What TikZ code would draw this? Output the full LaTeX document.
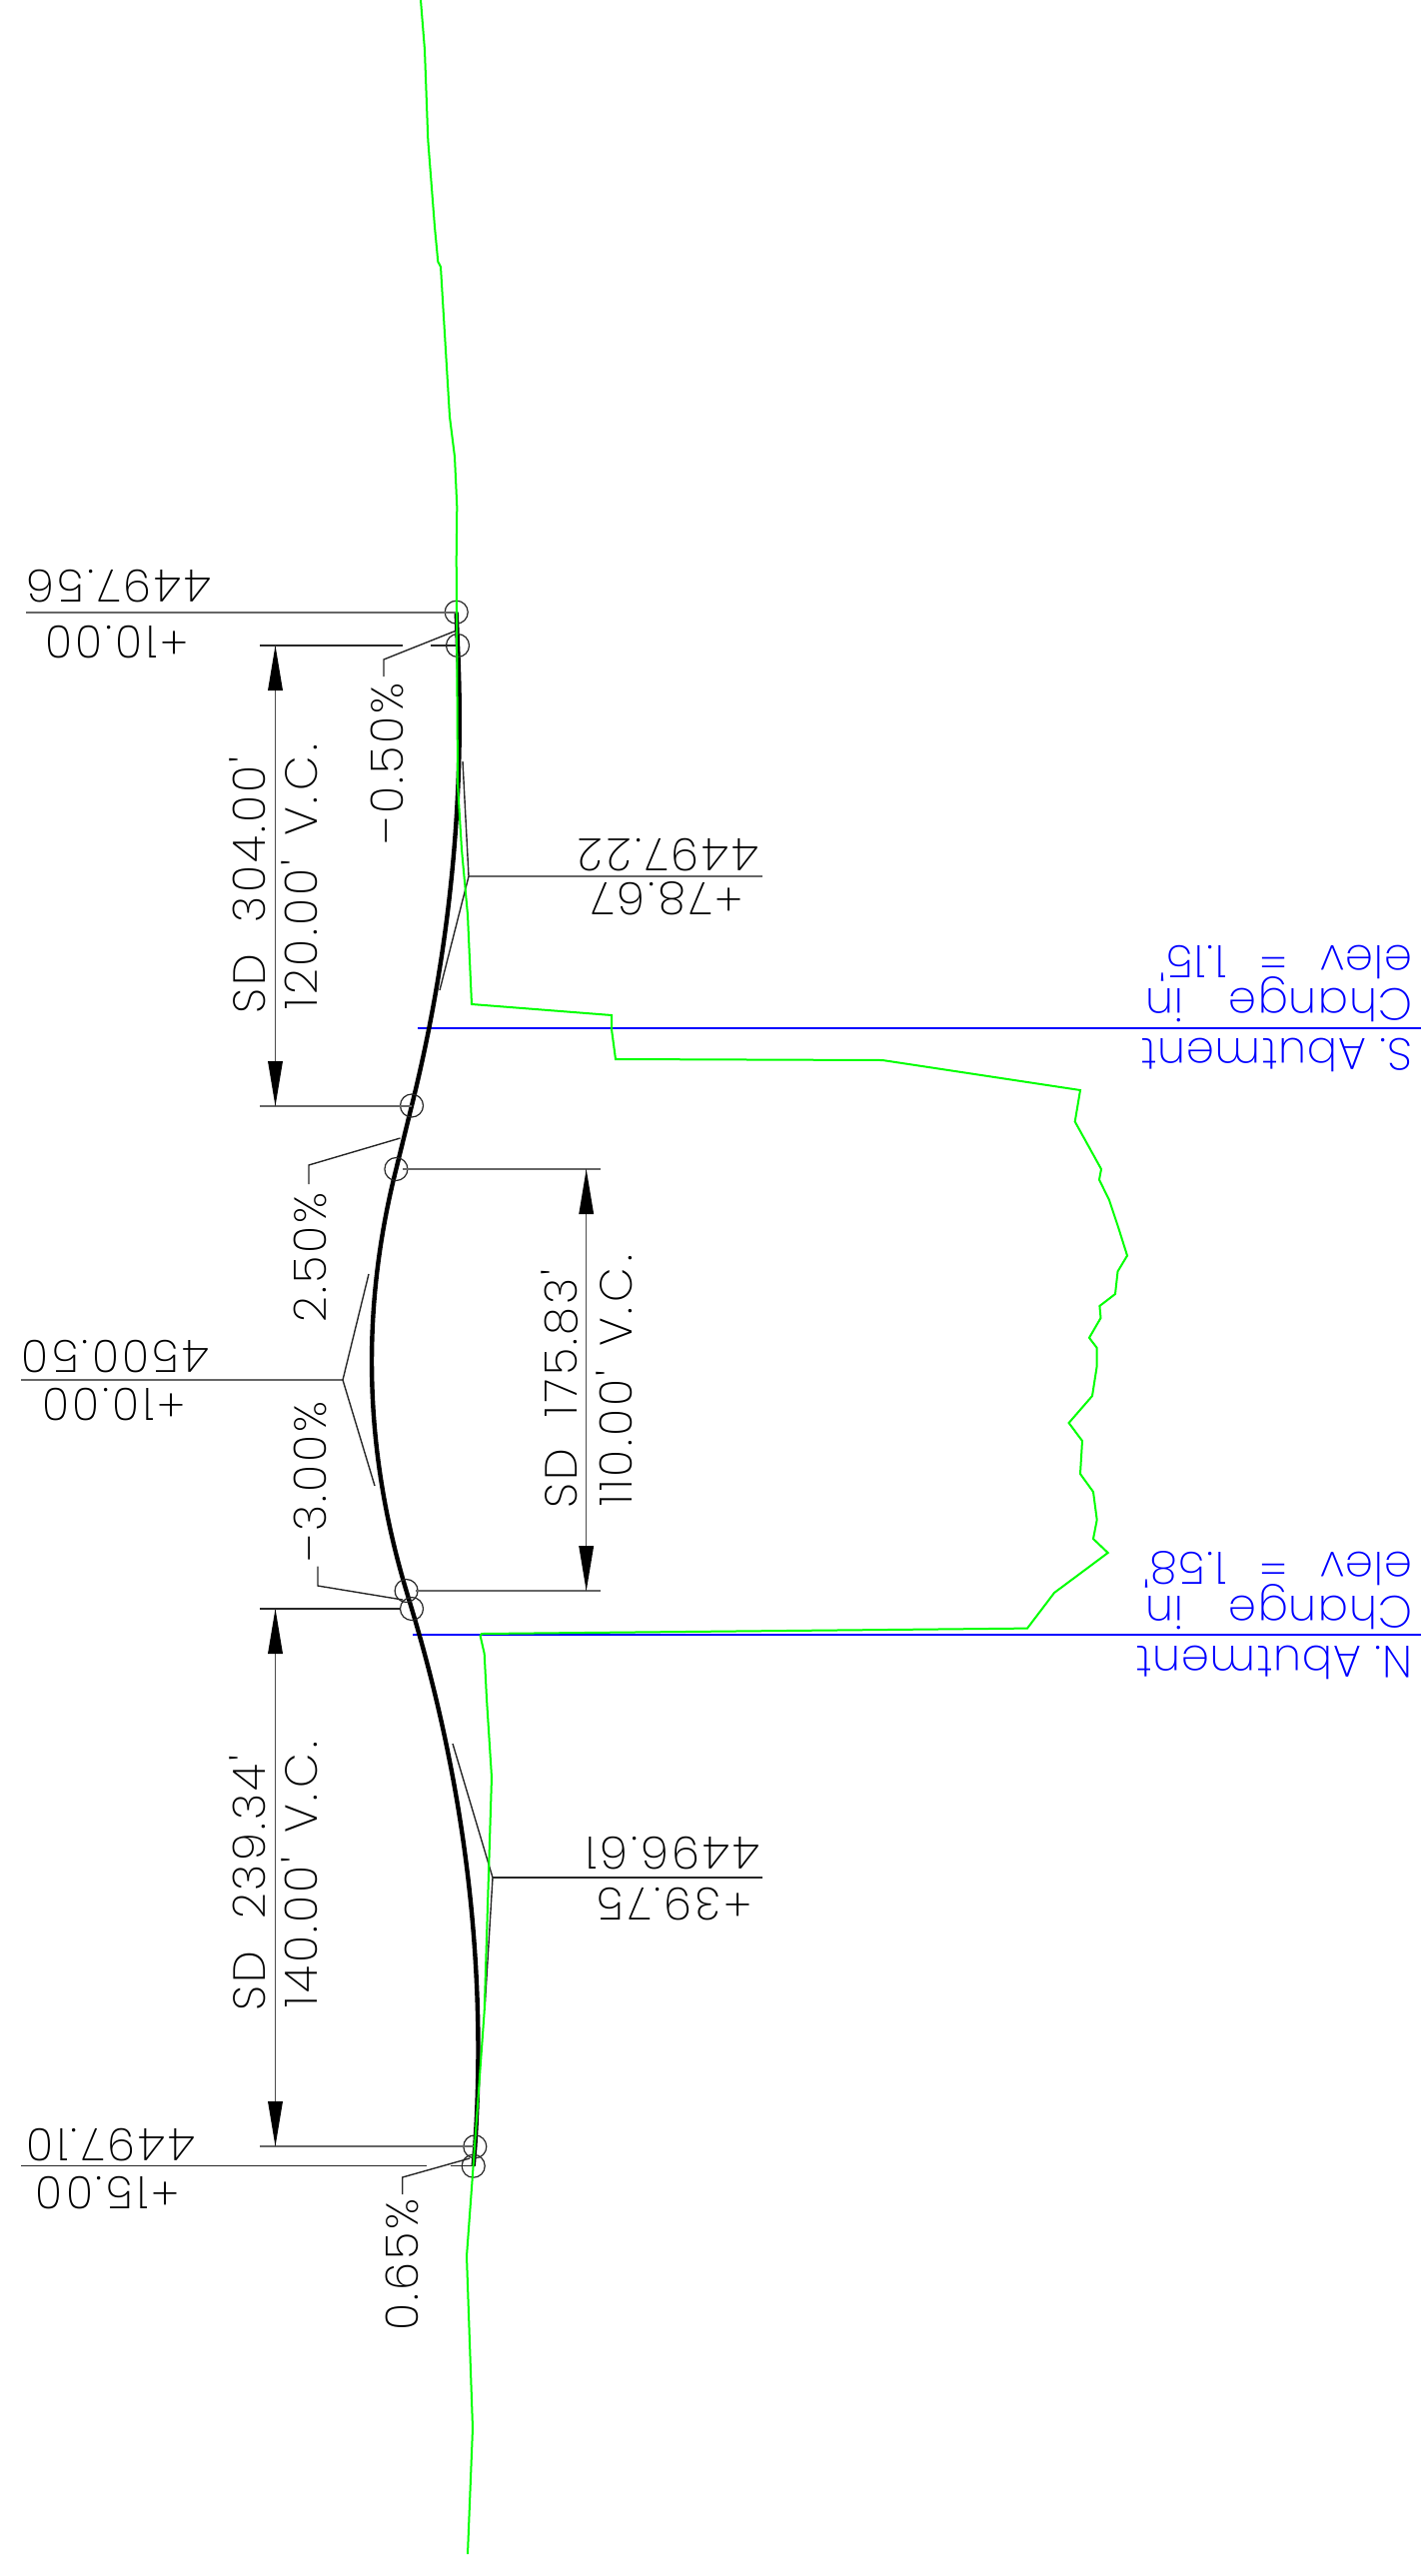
\documentclass[tikz,border=0pt]{standalone}
\usepackage{fontspec}
\newfontfamily\cadfont[LetterSpace=7,Kerning=Off]{Poppins ExtraLight}
\newfontfamily\notefont[LetterSpace=2,Kerning=Off]{Poppins ExtraLight}
\usetikzlibrary{shapes}
\definecolor{grnd}{rgb}{0,1,0}
\definecolor{abut}{rgb}{0,0,1}
\tikzset{
  lab/.style={font=\cadfont\fontsize{22.5}{24}\selectfont,inner sep=0pt,anchor=base west},
  flip/.style={lab,rotate=180},
  upr/.style={lab,rotate=90},
  blu/.style={lab,rotate=180,text=abut,font=\notefont\fontsize{22.5}{24}\selectfont},
  ext/.style={black!60,line width=1pt},
  lead/.style={black!85,line width=0.7pt},
  pvi/.style={black!85,line width=0.6pt},
  dimln/.style={black!70,line width=0.7pt},
  surf/.style={grnd,line width=1pt},
  grade/.style={black,line width=2.2pt},
  stn/.style={abut,line width=1pt}
}
\begin{document}
\begin{tikzpicture}[x=0.5pt,y=0.5pt]
\useasboundingbox (0,0) rectangle (1422,-2578);
% abutment lines
\draw [stn] (418,-1029) -- (1422,-1029);
\draw [stn] (413,-1636) -- (1422,-1636);
% profile grade
\draw [grade] (456.7,-612.7) -- (458,-646) .. controls (465.33,-800) and (450,-953.5) .. (412,-1106.5) -- (396.4,-1170) .. controls (360.8,-1310.67) and (364.2,-1451.33) .. (406.6,-1592) -- (412,-1610) .. controls (466,-1789.33) and (487.1,-1968.8) .. (475.3,-2148.3) -- (473.7,-2167.7);
% PVC and PVT circles
\draw [pvi] (456.7,-612.7) circle (11.5);
\draw [pvi] (458,-646) circle (11.5);
\draw [pvi] (412,-1106.5) circle (11.5);
\draw [pvi] (396.4,-1170) circle (11.5);
\draw [pvi] (406.6,-1592) circle (11.5);
\draw [pvi] (412,-1610) circle (11.5);
\draw [pvi] (475.3,-2148.3) circle (11.5);
\draw [pvi] (473.7,-2167.7) circle (11.5);
% station leaders
\draw [ext] (26,-612.7) -- (456,-612.7);
\draw [lead] (260,-646) -- (403,-646);
\draw [lead] (431,-646) -- (457,-646);
\draw [ext] (260,-1107) -- (412,-1107);
\draw [ext] (403,-1170) -- (601,-1170);
\draw [ext] (416,-1592) -- (601,-1592);
\draw [lead] (260,-1610) -- (400,-1610);
\draw [ext] (260,-2148.3) -- (475,-2148.3);
\draw [lead] (21,-2167.7) -- (427,-2167.7);
\draw [lead] (450.7,-2167.7) -- (473,-2167.7);
% PVI tees
\draw [ext] (469,-877) -- (763,-877);
\draw [lead] (463,-762) -- (469,-877) -- (440,-991);
\draw [ext] (21,-1381) -- (343,-1381);
\draw [lead] (369,-1275) -- (343,-1381) -- (375,-1487);
\draw [lead] (493,-1879) -- (763,-1879);
\draw [lead] (453,-1745) -- (493,-1879) -- (485,-2012);
% grade leaders
\draw [lead] (455,-631.7) -- (384,-660) -- (384,-677);
\draw [lead] (400.5,-1139) -- (309,-1166) -- (309,-1185);
\draw [lead] (403,-1601) -- (318,-1587) -- (318,-1567.5);
\draw [lead] (470,-2160) -- (402.7,-2179) -- (402.7,-2196);
% dimension arrows
\draw [dimln] (275.5,-646) -- (275.5,-1107);
\fill [black] (275.5,-646) -- (268,-691) -- (283,-691);
\fill [black] (275.5,-1107) -- (268,-1062) -- (283,-1062);
\draw [dimln] (586.7,-1170) -- (586.7,-1592);
\fill [black] (586.7,-1170) -- (579.2,-1215) -- (594.2,-1215);
\fill [black] (586.7,-1592) -- (579.2,-1547) -- (594.2,-1547);
\draw [dimln] (275.5,-1610) -- (275.5,-2148);
\fill [black] (275.5,-1610) -- (268,-1655) -- (283,-1655);
\fill [black] (275.5,-2148) -- (268,-2103) -- (283,-2103);
% existing ground
\draw [surf] (421,0) -- (425,-50) -- (428.3,-140) -- (435,-227) -- (438.3,-262) -- (441,-267) -- (450,-417) -- (455,-457) -- (457.3,-507) -- (456.7,-560) -- (458,-785) -- (462,-850) -- (468,-915.5) -- (472,-1005) -- (612,-1016) -- (612,-1030) -- (616,-1060) -- (883,-1061) -- (1081,-1091) -- (1075.7,-1122.5) -- (1102,-1170) -- (1100,-1180.6) -- (1110,-1201) -- (1118.5,-1226.5) -- (1128,-1256.6) -- (1118.5,-1272.4) -- (1116,-1295) -- (1100.4,-1307) -- (1101.5,-1319) -- (1090,-1338.8) -- (1097.7,-1349) -- (1097.7,-1367) -- (1093,-1397) -- (1069.6,-1424) -- (1083,-1442) -- (1081,-1475) -- (1094,-1493) -- (1097.7,-1521) -- (1094,-1540) -- (1108.7,-1554) -- (1055,-1594) -- (1028,-1629.6) -- (482,-1635) -- (480.6,-1637) -- (484.7,-1655) -- (487,-1700) -- (492,-1778.6) -- (484.7,-2012.7) -- (472.7,-2180) -- (467,-2258) -- (473,-2430) -- (468,-2556);
% elevation and station text
\node [flip] (elevA) at (212,-570.6) {4497.56};
\node [flip] (staA) at (189,-626) {+10.00};
\node [flip] (elevB) at (760,-839) {4497.22};
\node [flip] (staB) at (744,-883) {+78.67};
\node [flip] (elevC) at (210,-1341) {4500.50};
\node [flip] (staC) at (186,-1389) {+10.00};
\node [flip] (elevD) at (761,-1838) {4496.61};
\node [flip] (staD) at (753,-1889) {+39.75};
\node [flip] (elevE) at (195.4,-2130) {4497.10};
\node [flip] (staE) at (179.6,-2178) {+15.00};
% grades
\node [upr] (gradeA) at (403,-846) {–0.50\%};
\node [upr] (gradeB) at (326.5,-1324) {2.50\%};
\node [upr] (gradeC) at (326.5,-1564) {–3.00\%};
\node [upr] (gradeD) at (418,-2333) {0.65\%};
% sight distance and curve length
\node [upr] (sdA) at (265,-1015) {SD\ \ 304.00'};
\node [upr] (vcA) at (317,-1011) {120.00'\hspace{4pt}\ V.\hspace{3pt}C\hspace{3pt}.};
\node [upr] (sdB) at (577.5,-1510) {SD\ \ 175.83'};
\node [upr] (vcB) at (632.6,-1508) {110.00'\hspace{4pt}\ V.\hspace{3pt}C\hspace{3pt}.};
\node [upr] (sdC) at (265,-2012.7) {SD\ \ 239.34'};
\node [upr] (vcC) at (317,-2010) {140.00'\hspace{4pt}\ V.\hspace{3pt}C\hspace{3pt}.};
% abutment notes
\node [blu] (noteS) at (1414,-1039) {S. Abutment};
\node [blu] (chgS) at (1414,-989) {Change\ \ \hspace{9pt}in};
\node [blu] (elvS) at (1414,-946) {elev\ \ \hspace{3pt}=\ \ \hspace{3pt}1.15'};
\node [blu] (noteN) at (1414,-1647) {N. Abutment};
\node [blu] (chgN) at (1414,-1597) {Change\ \ \hspace{9pt}in};
\node [blu] (elvN) at (1414,-1553) {elev\ \ \hspace{3pt}=\ \ \hspace{3pt}1.58'};
\end{tikzpicture}
\end{document}
